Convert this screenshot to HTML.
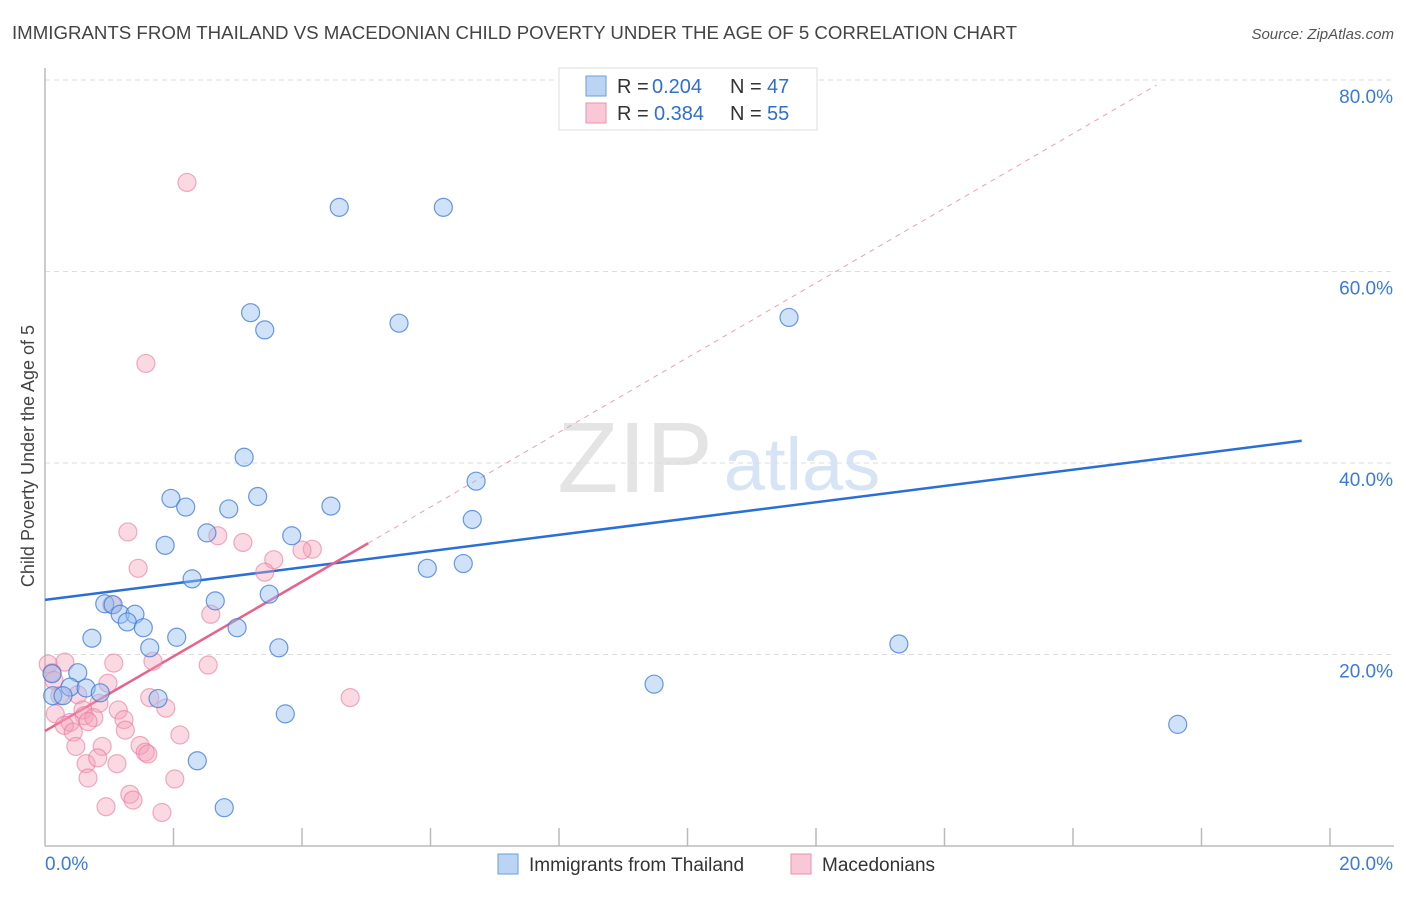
<!DOCTYPE html>
<html><head><meta charset="utf-8"><style>
body{margin:0;background:#fff;font-family:"Liberation Sans",sans-serif;}
svg text{font-family:"Liberation Sans",sans-serif;}
</style></head><body>
<svg id="chart" width="1406" height="892" xmlns="http://www.w3.org/2000/svg">
<text x="12" y="39" font-size="18" fill="#444" textLength="1005" lengthAdjust="spacingAndGlyphs">IMMIGRANTS FROM THAILAND VS MACEDONIAN CHILD POVERTY UNDER THE AGE OF 5 CORRELATION CHART</text>
<text x="1394" y="39" font-size="15" fill="#555" font-style="italic" text-anchor="end">Source: ZipAtlas.com</text>
<text transform="translate(34,456) rotate(-90)" font-size="18" fill="#444" text-anchor="middle">Child Poverty Under the Age of 5</text>
<g id="watermark">
<text x="635" y="492" font-size="100" fill="#e4e4e4" font-family="Liberation Serif" text-anchor="middle">ZIP</text>
<text x="802" y="490" font-size="74" fill="#d6e4f5" text-anchor="middle">atlas</text>
</g>
<g id="grid"></g>
<g id="axes"></g>
<g id="lines"></g>
<g id="points"></g>
<g id="legend">
<rect x="559" y="68" width="258" height="62" fill="#fff" stroke="#ddd"/>
<rect x="586" y="76" width="20" height="20" fill="#bcd4f4" stroke="#6a9de0"/>
<text x="617" y="93" font-size="20" fill="#333">R =</text>
<text x="652" y="93" font-size="20" fill="#2f6fd0">0.204</text>
<text x="730" y="93" font-size="20" fill="#333">N =</text>
<text x="767" y="93" font-size="20" fill="#2f6fd0">47</text>
<rect x="586" y="103" width="20" height="20" fill="#f9c8d6" stroke="#ec92ad"/>
<text x="617" y="120" font-size="20" fill="#333">R =</text>
<text x="654" y="120" font-size="20" fill="#2f6fd0">0.384</text>
<text x="730" y="120" font-size="20" fill="#333">N =</text>
<text x="767" y="120" font-size="20" fill="#2f6fd0">55</text>
</g>
<g id="bottom-legend">
<rect x="498" y="854" width="20" height="20" fill="#bcd4f4" stroke="#6a9de0"/>
<text x="529" y="871" font-size="19" fill="#333">Immigrants from Thailand</text>
<rect x="791" y="854" width="20" height="20" fill="#f9c8d6" stroke="#ec92ad"/>
<text x="822" y="871" font-size="19" fill="#333">Macedonians</text>
</g>
</svg>
<script>
const blueX=[4.58,6.20,3.20,3.42,5.51,11.58,3.10,1.96,2.19,3.31,2.86,4.45,6.71,6.65,2.52,3.84,1.87,2.29,5.95,6.51,0.93,1.06,1.17,1.40,1.28,1.53,2.65,3.49,0.73,2.05,2.99,1.63,3.64,13.29,0.51,0.11,0.39,0.64,0.12,0.28,0.86,1.76,3.74,9.48,17.63,2.37,2.79];
const blueY=[66.7,66.7,55.7,53.9,54.6,55.2,40.6,36.3,35.4,36.5,35.2,35.5,38.1,34.1,32.7,32.4,31.4,27.9,29.0,29.5,25.3,25.2,24.2,24.2,23.4,22.8,25.6,26.3,21.7,21.8,22.8,20.7,20.7,21.1,18.1,18.0,16.6,16.5,15.7,15.7,16.0,15.4,13.8,16.9,12.7,8.9,4.0];
const pinkX=[2.21,1.57,1.29,2.69,3.08,4.16,1.45,3.56,4.00,3.42,1.04,2.58,0.05,1.07,0.31,1.68,2.54,0.11,0.14,0.98,1.63,0.23,0.51,1.88,4.75,0.84,0.59,0.16,1.14,0.61,0.76,0.67,1.23,0.39,1.25,0.30,2.10,0.44,0.89,0.48,1.48,1.56,1.60,0.64,0.82,1.12,2.02,0.67,1.32,1.37,0.95,1.82];
const pinkY=[69.3,50.4,32.8,32.4,31.7,31.0,29.0,29.9,30.9,28.6,25.2,24.2,19.0,19.1,19.2,19.3,18.9,18.1,17.3,17.0,15.5,15.7,15.8,14.4,15.5,14.9,14.2,13.8,14.2,13.6,13.4,13.0,13.2,12.9,12.1,12.6,11.6,11.9,10.4,10.4,10.5,9.8,9.6,8.6,9.2,8.6,7.0,7.1,5.4,4.8,4.1,3.5];
const yTicks=[20,40,60,80];
const yTickLabels=["20.0%","40.0%","60.0%","80.0%"];
const xTickLabels=["0.0%","20.0%"];
const blueFit=[25.7,0.85];
const pinkFit=[12.0,3.9];
const ns="http://www.w3.org/2000/svg";
const X=v=>45+v*64.25, Y=v=>846-v*9.575;
function mk(p,t,a){const e=document.createElementNS(ns,t);for(const k in a)e.setAttribute(k,a[k]);document.getElementById(p).appendChild(e);return e;}
yTicks.forEach((t,i)=>{
 const g=mk('grid','line',{x1:45,x2:1394,y1:Y(t),y2:Y(t),stroke:'#ddd','stroke-dasharray':'5,4'});
 
 
 const l=mk('axes','text',{x:1393,y:Y(t)+23,'font-size':19,fill:'#3b7ad8','text-anchor':'end'});
 l.textContent=yTickLabels[i];
 
 
});
mk('axes','line',{x1:45,x2:45,y1:68,y2:846,stroke:'#bbb','stroke-width':1.5});
mk('axes','line',{x1:45,x2:1394,y1:846,y2:846,stroke:'#bbb','stroke-width':1.5});
for(let i=1;i<=10;i++){const x=X(i*2);const t=mk('axes','line',{x1:x,x2:x,y1:828,y2:846,stroke:'#bbb','stroke-width':1.5});}
[[0,'start',45],[1,'end',1393]].forEach(([i,a,x])=>{const l=mk('axes','text',{x:x,y:870,'font-size':19,fill:'#3b7ad8','text-anchor':a});l.textContent=xTickLabels[i];});
const bl=mk('lines','line',{x1:X(0),y1:Y(blueFit[0]),x2:X(19.56),y2:Y(blueFit[0]+blueFit[1]*19.56),stroke:'#2a6fd6','stroke-width':2.5});


const pd=mk('lines','line',{x1:X(5.03),y1:Y(pinkFit[0]+pinkFit[1]*5.03),x2:X(17.3),y2:Y(pinkFit[0]+pinkFit[1]*17.3),stroke:'#eaa0b6','stroke-width':1,'stroke-dasharray':'5,5'});


const pl=mk('lines','line',{x1:X(0),y1:Y(pinkFit[0]),x2:X(5.03),y2:Y(pinkFit[0]+pinkFit[1]*5.03),stroke:'#e8628c','stroke-width':2.5});


pinkX.forEach((x,i)=>{const c=mk('points','circle',{cx:X(x),cy:Y(pinkY[i]),r:9,fill:'rgba(244,160,185,0.4)',stroke:'rgba(232,120,155,0.6)','stroke-width':1.2});

});
blueX.forEach((x,i)=>{const c=mk('points','circle',{cx:X(x),cy:Y(blueY[i]),r:9,fill:'rgba(150,190,240,0.45)',stroke:'rgba(60,120,215,0.75)','stroke-width':1.2});

});
</script>
</body></html>
